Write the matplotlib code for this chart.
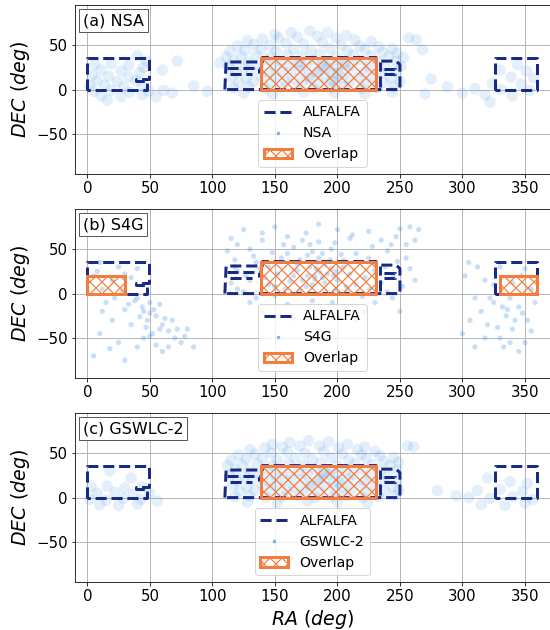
import matplotlib
matplotlib.use('Agg')
import matplotlib.pyplot as plt
from matplotlib.patches import Rectangle, Patch
from matplotlib.lines import Line2D
from matplotlib.offsetbox import AnchoredText

NAVY = '#172a88'
ORANGE = '#f47c3c'
DOTS = '#3d8fe8'

panel_labels = ['(a) NSA', '(b) S4G', '(c) GSWLC-2']
sample_names = ['NSA', 'S4G', 'GSWLC-2']

# ALFALFA footprint outlines (RA, DEC vertices)
alfalfa_left = [(0, 0), (0, 36), (49, 36), (49, 12), (39, 12), (39, 10), (48, 10), (48, 0), (0, 0)]
alfalfa_mid = [(110, 0), (111, 31), (140, 31), (140, 36), (231, 36), (231, 32), (247, 32),
               (250, 28), (250, 0), (110, 0)]
alfalfa_bits = [[(112, 24), (137, 24), (137, 19)], [(114, 18), (132, 18)],
                [(234, 3), (234, 31)], [(237, 23), (246, 23), (246, 17.5), (237, 17.5), (237, 23)]]
alfalfa_right = [(326, 0), (326, 36), (360, 36), (360, 0), (326, 0)]

# overlap boxes per panel: (ra0, dec0, width, height)
overlap_a = [(139, 0, 92, 36)]
overlap_b = [(139, 0, 92, 36), (0, 0, 30, 20), (330, 0, 30, 20)]
overlap_c = [(139, 0, 92, 36)]

nsa_pts = [
    (150, 62), (163, 64), (178, 66), (192, 64), (207, 61),
    (128, 55), (140, 57), (153, 58), (168, 59), (184, 60), (199, 58), (214, 56), (227, 54), (257, 58), (263, 56),
    (120, 49), (133, 51), (146, 50), (159, 52), (173, 51), (188, 53), (203, 50), (218, 49), (233, 48), (244, 46),
    (114, 43), (126, 44), (139, 45), (151, 43), (165, 45), (179, 44), (194, 46), (208, 43), (222, 45), (236, 42), (248, 41),
    (111, 37), (123, 38), (135, 39), (147, 37), (160, 39), (172, 38), (186, 40), (199, 37), (213, 39), (227, 38), (241, 37), (253, 36),
    (117, 32), (129, 31), (143, 33), (155, 32), (168, 31), (181, 33), (194, 32), (206, 31), (219, 33), (233, 31), (247, 32),
    (113, 26), (125, 25), (137, 27), (150, 26), (162, 25), (175, 27), (188, 26), (200, 25), (212, 27), (225, 26), (239, 25), (251, 26),
    (119, 20), (131, 21), (145, 19), (157, 20), (170, 21), (183, 20), (196, 19), (208, 21), (221, 20), (235, 19), (247, 20),
    (115, 14), (127, 13), (139, 15), (151, 14), (164, 13), (177, 15), (190, 14), (203, 13), (217, 15), (229, 14), (243, 13),
    (121, 8), (133, 9), (146, 7), (159, 8), (172, 9), (185, 7), (198, 8), (210, 9), (223, 7), (237, 8), (250, 9),
    (117, 2), (129, 3), (142, 1), (155, 2), (168, 3), (181, 1), (194, 2), (206, 3), (219, 1), (232, 2), (245, 3),
    (125, -4), (148, -5), (173, -3), (198, -4), (222, -5), (244, -3),
    (185, 20), (192, 25), (178, 12), (200, 18), (188, 30), (170, 28), (205, 28), (195, 10),
    (40, 38), (47, 32), (6, 28), (19, 29), (33, 27), (45, 25), (11, 22), (27, 21), (42, 19), (4, 16), (17, 15),
    (33, 14), (8, 10), (24, 9), (39, 10), (2, 4), (14, 5), (29, 3), (44, 4), (5, -2), (19, -1), (34, -3),
    (49, -2), (61, -1), (11, -7), (27, -8), (44, -6), (68, -4), (16, -12), (55, -8),
    (344, 28), (330, 22), (351, 21), (339, 14), (357, 13), (324, 7), (347, 6), (310, 1), (331, 0), (354, -1),
    (318, -6), (340, -7), (322, -14), (300, -4), (288, 3),
    (85, 4), (96, -2), (275, 12), (268, 45), (60, 22), (72, 32), (106, 30), (270, -5),
]

s4g_pts = [
    (125, 72), (150, 75), (175, 68), (200, 72), (225, 70), (250, 73), (258, 75), (185, 78), (140, 68), (212, 66),
    (115, 62), (140, 60), (160, 64), (185, 58), (210, 62), (235, 60), (255, 55), (172, 60), (198, 57), (247, 64),
    (112, 48), (130, 50), (148, 46), (165, 52), (180, 47), (195, 50), (215, 45), (240, 48), (157, 55), (228, 53),
    (118, 38), (135, 35), (155, 40), (170, 38), (185, 40), (190, 33), (205, 37), (225, 40), (248, 36), (176, 43),
    (120, 25), (138, 28), (152, 22), (168, 26), (178, 30), (186, 24), (195, 28), (210, 22), (230, 26), (245, 20),
    (182, 20), (188, 18), (192, 22), (176, 20), (199, 25), (184, 35), (172, 15), (205, 30),
    (115, 12), (130, 15), (145, 10), (162, 14), (175, 8), (182, 16), (190, 12), (200, 15), (215, 10), (235, 12), (252, 8),
    (125, 2), (150, -2), (170, 3), (185, 0), (198, 4), (220, -3), (240, 2), (158, 5), (208, 2),
    (130, -10), (160, -12), (180, -8), (205, -15), (230, -10), (190, -25), (215, -30), (165, -28), (140, -20), (250, -20),
    (120, 55), (133, 42), (145, 30), (160, 45), (168, 33), (178, 55), (183, 28), (188, 45), (194, 38), (203, 44),
    (218, 35), (222, 18), (238, 30), (243, 55), (255, 40), (258, 28), (118, 30), (127, 20), (142, 18), (150, 8),
    (165, 20), (180, 10), (197, 20), (207, 8), (226, 5), (244, -5), (135, -5), (178, -18), (196, -10), (222, -20),
    (262, 60), (265, 72), (120, 5), (262, 15),
    (10, 35), (25, 30), (40, 28), (5, 20), (20, 15), (35, 18), (45, 10), (12, 5), (28, 2), (40, -5), (50, -10),
    (15, -10), (30, -18), (45, -20), (55, -25), (48, -30), (60, -35), (65, -42), (52, -45), (70, -50), (75, -55),
    (35, -35), (20, -30), (10, -45), (25, -55), (40, -60), (55, -58), (62, -28), (80, -40), (85, -60), (5, -70),
    (30, -75), (50, -48), (44, -15), (50, -22), (47, -38), (53, -18), (42, -26), (58, -40), (38, -8), (65, -60),
    (8, 25), (30, 22), (22, -5), (33, -12), (58, -12), (68, -30), (72, -40), (78, -48), (45, -50), (60, -65),
    (18, -62), (12, -20),
    (305, 35), (330, 30), (350, 28), (318, 15), (340, 12), (355, 5), (310, -5), (325, -10), (345, -15), (335, -25),
    (352, -30), (340, -40), (320, -35), (330, -50), (350, -55), (310, -60), (345, -65), (300, -45), (315, -20),
    (325, 10), (338, -5), (336, -18), (342, -30), (328, -38), (347, 20), (333, -60),
    (302, 20), (312, 30), (322, -5), (332, -15), (348, -22), (355, -42), (318, -50), (338, -55), (306, -30), (358, -10),
]

gswlc_pts = [
    (148, 60), (162, 62), (177, 64), (193, 63), (208, 60), (222, 57),
    (130, 54), (142, 56), (156, 57), (170, 58), (186, 58), (201, 56), (216, 54), (230, 52), (256, 58), (261, 57),
    (121, 48), (134, 49), (147, 50), (160, 51), (174, 50), (189, 52), (204, 49), (219, 48), (234, 47), (245, 45),
    (115, 42), (127, 43), (140, 44), (152, 42), (166, 44), (180, 43), (195, 45), (209, 42), (223, 44), (237, 41), (249, 40),
    (112, 36), (124, 37), (136, 38), (148, 36), (161, 38), (173, 37), (187, 39), (200, 36), (214, 38), (228, 37), (242, 36),
    (118, 31), (130, 30), (144, 32), (156, 31), (169, 30), (182, 32), (195, 31), (207, 30), (220, 32), (234, 30), (248, 31),
    (114, 25), (126, 24), (138, 26), (151, 25), (163, 24), (176, 26), (189, 25), (201, 24), (213, 26), (226, 25), (240, 24),
    (120, 19), (132, 20), (146, 18), (158, 19), (171, 20), (184, 19), (197, 18), (209, 20), (222, 19), (236, 18), (248, 19),
    (116, 13), (128, 12), (140, 14), (152, 13), (165, 12), (178, 14), (191, 13), (204, 12), (218, 14), (230, 13), (244, 12),
    (122, 7), (134, 8), (147, 6), (160, 7), (173, 8), (186, 6), (199, 7), (211, 8), (224, 6), (238, 7), (249, 8),
    (118, 1), (130, 2), (143, 0), (156, 1), (169, 2), (182, 0), (195, 1), (207, 2), (220, 0), (233, 1), (246, 2),
    (128, -5), (152, -6), (176, -4), (200, -5), (224, -6),
    (186, 21), (193, 26), (179, 13), (201, 17), (189, 29),
    (3, 12), (16, 13), (30, 11), (44, 12), (8, 5), (22, 6), (37, 4), (50, 5), (2, -2), (15, -3), (29, -1),
    (43, -2), (56, -4), (10, -8), (25, -9), (40, -7), (18, 30), (35, 22),
    (320, 22), (338, 18), (352, 16), (312, 8), (330, 9), (348, 7), (305, 0), (322, -1), (340, 1), (356, -2),
    (315, -8), (334, -9), (350, -6), (280, 8), (295, 2),
]

samples = [nsa_pts, s4g_pts, gswlc_pts]
overlaps = [overlap_a, overlap_b, overlap_c]
dot_sizes = [130, 28, 130]
dot_alphas = [0.14, 0.28, 0.14]

plt.rcParams['hatch.linewidth'] = 1.2
fig, axs = plt.subplots(3, 1, figsize=(550 / 72, 630 / 72), dpi=72)
fig.subplots_adjust(left=0.136, right=1.0, top=0.992, bottom=0.076, hspace=0.207)

for i, ax in enumerate(axs):
    ra, dec = zip(*samples[i])
    ax.scatter(ra, dec, s=dot_sizes[i], color=DOTS, alpha=dot_alphas[i], edgecolors='none', zorder=1)

    for shape in [alfalfa_left, alfalfa_mid, alfalfa_right] + alfalfa_bits:
        xs, ys = zip(*shape)
        ax.plot(xs, ys, '--', color=NAVY, lw=3, zorder=3)

    for (x0, y0, w, h) in overlaps[i]:
        ax.add_patch(Rectangle((x0, y0), w, h, fill=False, edgecolor=ORANGE,
                               hatch='xx', lw=3, zorder=4))

    ax.set_xlim(-10, 370)
    ax.set_ylim(-95, 95)
    ax.set_xticks(range(0, 351, 50))
    ax.set_yticks([-50, 0, 50])
    ax.tick_params(labelsize=15)
    ax.grid(True, color='#b0b0b0', lw=0.9)
    ax.set_axisbelow(True)
    ax.set_ylabel(r'$DEC\ (deg)$', fontsize=19)

    at = AnchoredText(panel_labels[i], loc='upper left', prop=dict(size=16), pad=0.25, borderpad=0.25)
    at.patch.set_edgecolor('0.35')
    ax.add_artist(at)

    handles = [Line2D([], [], ls='--', color=NAVY, lw=3),
               Line2D([], [], ls='none', marker='o', ms=2.5, color=DOTS, alpha=0.6),
               Patch(fill=False, edgecolor=ORANGE, hatch='xx', lw=3)]
    ax.legend(handles, ['ALFALFA', sample_names[i], 'Overlap'], loc='lower center', fontsize=14)

axs[-1].set_xlabel(r'$RA\ (deg)$', fontsize=19)
fig.savefig('out.png', dpi=72)
